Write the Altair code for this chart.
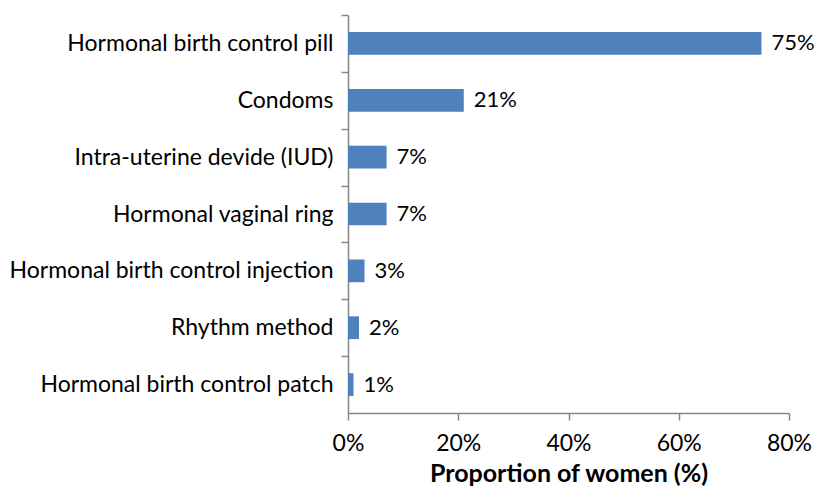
import altair as alt
import pandas as pd

methods = [
    "Hormonal birth control pill",
    "Condoms",
    "Intra-uterine devide (IUD)",
    "Hormonal vaginal ring",
    "Hormonal birth control injection",
    "Rhythm method",
    "Hormonal birth control patch",
]
values = [75, 21, 7, 7, 3, 2, 1]
labels = ["75%", "21%", "7%", "7%", "3%", "2%", "1%"]

df = pd.DataFrame({"method": methods, "value": values, "label": labels})

FONT = "Lato"
FS = 23
STEP = 398 / 7

y_enc = alt.Y(
    "method:N",
    sort=methods,
    title=None,
    scale=alt.Scale(paddingInner=0, paddingOuter=0),
    axis=alt.Axis(
        tickOffset=-STEP / 2,
        labelOffset=STEP / 2,
        labelFont=FONT,
        labelFontSize=FS,
        labelColor="#000000",
        labelPadding=8,
        labelLimit=400,
        tickSize=7,
        tickColor="#868686",
        domainColor="#868686",
        domainWidth=1.5,
        tickWidth=1.5,
        grid=False,
    ),
)

x_enc = alt.X(
    "value:Q",
    title="Proportion of women (%)",
    scale=alt.Scale(domain=[0, 80], nice=False),
    axis=alt.Axis(
        values=[0, 20, 40, 60, 80],
        labelExpr="datum.value + '%'",
        labelFlush=False,
        labelOverlap=False,
        labelFont=FONT,
        labelFontSize=FS,
        labelColor="#000000",
        labelPadding=12,
        tickSize=7,
        tickColor="#868686",
        domainColor="#868686",
        domainWidth=1.5,
        tickWidth=1.5,
        grid=False,
        titleFont=FONT,
        titleFontSize=25,
        titleFontWeight="bold",
        titleColor="#000000",
        titlePadding=6,
    ),
)

bars = alt.Chart(df).mark_bar(
    color="#4F81BD", height=alt.RelativeBandSize(0.4)
).encode(x=x_enc, y=y_enc)

text = alt.Chart(df).mark_text(
    align="left", baseline="middle", dx=10, font=FONT, fontSize=22, color="#000000"
).encode(x="value:Q", y=alt.Y("method:N", sort=methods), text="label:N")

chart = (
    alt.layer(bars, text)
    .properties(
        width=441,
        height=398,
        autosize=alt.AutoSizeParams(type="none"),
        padding={"left": 340, "top": 7, "right": 26, "bottom": 74},
        background="white",
    )
    .configure_view(stroke=None)
)

chart.save("out.html", embed_options={"renderer": "svg", "actions": False})
